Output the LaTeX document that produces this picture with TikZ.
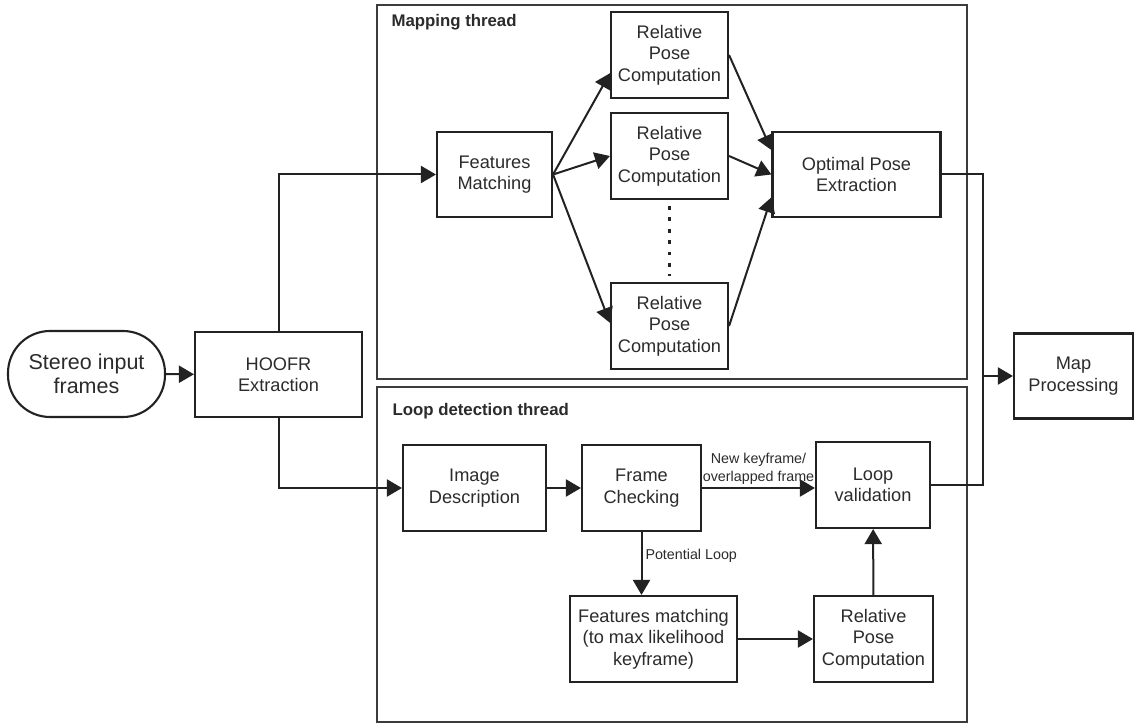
\documentclass[tikz,border=0pt]{standalone}
\usepackage{fontspec}
\setmainfont{Liberation Sans}
\usetikzlibrary{arrows.meta,positioning}
\definecolor{ink}{HTML}{222222}
\definecolor{framegray}{HTML}{3C3C3C}
\definecolor{txt}{HTML}{2B2B2B}
\tikzset{
  procbox/.style={draw=ink,line width=2.1pt,minimum height=85pt,
                  align=center,font=\fontsize{18.2}{21.5}\selectfont,text=txt,inner sep=2pt},
  startbox/.style={procbox,rounded corners=42pt,font=\fontsize{21.5}{24.5}\selectfont},
  threadframe/.style={draw=framegray,line width=1.5pt},
  threadlabel/.style={anchor=west,font=\fontsize{16.8}{19}\selectfont\bfseries,text=txt},
  edgelabel/.style={font=\fontsize{14.3}{18}\selectfont,text=txt,align=center,inner sep=2pt},
  flowline/.style={draw=ink,line width=2pt},
  flowarr/.style={flowline,-{Triangle[length=15pt,width=17pt]}},
  dotline/.style={draw=ink,line width=3.8pt,dash pattern=on 3.8pt off 7.6pt}
}

\begin{document}
\begin{tikzpicture}[x=1pt,y=-1pt]
  \useasboundingbox (0,0) rectangle (1138,727);
  % thread frames
  \draw[threadframe] (377,5) rectangle (967,379);
  \draw[threadframe] (377,387) rectangle (967,722);
  \node[threadlabel] (maplabel) at (388,22) {Mapping thread};
  \node[threadlabel] (looplabel) at (389,411) {Loop detection thread};

  \node[startbox,minimum width=157pt,minimum height=86pt] (stereo) at (86.5,374) {Stereo input\\frames};
  \node[procbox,minimum width=167pt] (hoofr) at (278.5,374.5) {HOOFR\\Extraction};

  % mapping thread
  \node[procbox,minimum width=115pt] (featmatch) at (494.5,174.5) {Features\\Matching};
  \node[procbox,minimum width=117pt,minimum height=86pt] (relpose1) at (669.5,55) {Relative\\Pose\\Computation};
  \node[procbox,minimum width=117pt,minimum height=86pt] (relpose2) at (669.5,156) {Relative\\Pose\\Computation};
  \node[procbox,minimum width=117pt,minimum height=86pt] (relpose3) at (669.5,326) {Relative\\Pose\\Computation};
  \node[procbox,minimum width=168pt] (optimal) at (856.5,174.5) {Optimal Pose\\Extraction};

  % loop detection thread
  \node[procbox,minimum width=143pt,minimum height=86pt] (imgdesc) at (474.5,488) {Image\\Description};
  \node[procbox,minimum width=119pt,minimum height=86pt] (framecheck) at (641.5,488) {Frame\\Checking};
  \node[procbox,minimum width=114pt,minimum height=86pt] (loopval) at (873,485) {Loop\\validation};
  \node[procbox,minimum width=167pt,minimum height=86pt] (fmloop) at (653.5,639) {Features matching\\(to max likelihood\\keyframe)};
  \node[procbox,minimum width=119pt,minimum height=86pt] (relloop) at (873.5,639) {Relative\\Pose\\Computation};

  \node[procbox,minimum width=119pt] (mapproc) at (1073.5,376) {Map\\Processing};

  % connectors
  \draw[flowarr] (stereo) -- (hoofr);
  \draw[flowarr] (hoofr.north) |- (featmatch.west);
  \draw[flowarr] (hoofr.south) |- (imgdesc.west);

  \draw[flowarr] (featmatch.east) -- (relpose1.197);
  \draw[flowarr] (featmatch.east) -- (relpose2.west);
  \draw[flowarr] (featmatch.east) -- (relpose3.177);
  \draw[flowarr] (relpose1.east) -- (optimal.164);
  \draw[flowarr] (relpose2.east) -- (optimal.west);
  \draw[flowarr] (relpose3.east) -- (optimal.195);
  \draw[dotline] ([yshift=-6pt]relpose2.south) -- ([yshift=6pt]relpose3.north);

  \draw[flowarr] (imgdesc) -- (framecheck);
  \draw[flowarr] (framecheck.east) -- (framecheck.east -| loopval.west)
    node[edgelabel,midway,above=1pt] {New keyframe/\\overlapped frame};
  \draw[flowarr] (framecheck.south) -- (framecheck.south |- fmloop.north)
    node[edgelabel,pos=0.38,right=1pt] {Potential Loop};
  \draw[flowarr] (fmloop.east) -- (fmloop.east -| relloop.west);
  \draw[flowarr] (relloop) -- (loopval);

  \coordinate (bus) at (983,376);
  \draw[flowline] (optimal.east) -| (bus) |- (loopval.east);
  \draw[flowarr] (bus) -- (mapproc.west);
\end{tikzpicture}
\end{document}
